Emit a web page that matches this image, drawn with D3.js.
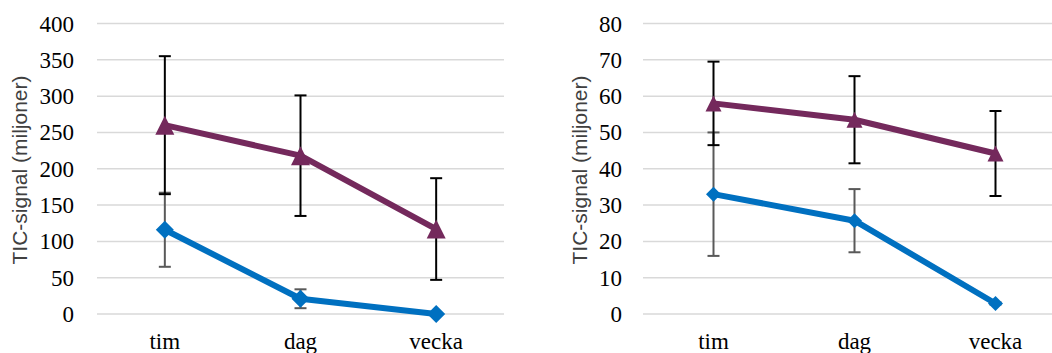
<!DOCTYPE html>
<html>
<head>
<meta charset="utf-8">
<script src="https://cdn.jsdelivr.net/npm/d3@7"></script>
<style>
  body { margin: 0; background: #fff; }
  svg { display: block; }
</style>
</head>
<body>
<script>
// chart.js
const width = 1052;
const height = 353;

const categories = ['tim', 'dag', 'vecka'];
const yTitle = 'TIC-signal (miljoner)';

// left panel
const leftTicks = [0, 50, 100, 150, 200, 250, 300, 350, 400];
const leftPurple = [260, 218, 117];
const leftPurpleErr = [95, 83, 70];
const leftBlue = [116, 21, 0];
const leftBlueErr = [51, 13, 0.4];

// right panel
const rightTicks = [0, 10, 20, 30, 40, 50, 60, 70, 80];
const rightPurple = [58, 53.5, 44.2];
const rightPurpleErr = [11.5, 12, 11.7];
const rightBlue = [33, 25.7, 2.9];
const rightBlueErr = [17, 8.7, 0.3];

const purple = '#74295c';
const blue = '#0070c0';

const svg = d3.select('body').append('svg')
  .attr('width', width)
  .attr('height', height);

svg.append('rect').attr('width', width).attr('height', height).attr('fill', '#fff');

const panels = [
  {x0: 97, x1: 504, labelX: 74, titleX: 27, ticks: leftTicks, purple: leftPurple, purpleErr: leftPurpleErr,
   blue: leftBlue, blueErr: leftBlueErr, tri: 19, dia: 9},
  {x0: 643, x1: 1066, labelX: 622, titleX: 587, ticks: rightTicks, purple: rightPurple, purpleErr: rightPurpleErr,
   blue: rightBlue, blueErr: rightBlueErr, tri: 16, dia: 7.5}
];

for (const p of panels) {
  const g = svg.append('g');

  const x = d3.scaleBand()
    .domain(categories)
    .range([p.x0, p.x1]);

  const y = d3.scaleLinear()
    .domain([0, d3.max(p.ticks)])
    .range([314, 23.5]);

  // gridlines
  g.append('g')
    .selectAll('line')
    .data(p.ticks)
    .join('line')
    .attr('x1', p.x0)
    .attr('x2', Math.min(p.x1, width))
    .attr('y1', d => y(d))
    .attr('y2', d => y(d))
    .attr('stroke', '#d9d9d9')
    .attr('stroke-width', 1.5);

  // y tick labels
  g.append('g')
    .selectAll('text')
    .data(p.ticks)
    .join('text')
    .attr('x', p.labelX)
    .attr('y', d => y(d))
    .attr('dy', '0.35em')
    .attr('text-anchor', 'end')
    .attr('font-family', '"Liberation Serif", "Times New Roman", serif')
    .attr('font-size', 23)
    .attr('fill', '#000')
    .text(d => d);

  // x labels
  g.append('g')
    .selectAll('text')
    .data(categories)
    .join('text')
    .attr('x', d => x(d) + x.bandwidth() / 2)
    .attr('y', 348.5)
    .attr('text-anchor', 'middle')
    .attr('font-family', '"Liberation Serif", "Times New Roman", serif')
    .attr('font-size', 23)
    .attr('fill', '#000')
    .text(d => d);

  // y title
  g.append('text')
    .attr('transform', `translate(${p.titleX},170) rotate(-90)`)
    .attr('text-anchor', 'middle')
    .attr('font-family', '"Liberation Sans", Arial, sans-serif')
    .attr('font-size', 21)
    .attr('fill', '#404040')
    .text(yTitle);

  const cx = i => x(categories[i]) + x.bandwidth() / 2;

  const series = [
    {vals: p.blue, err: p.blueErr, color: blue, errColor: '#595959', shape: 'diamond'},
    {vals: p.purple, err: p.purpleErr, color: purple, errColor: '#000', shape: 'triangle'}
  ];

  for (const s of series) {
    const line = d3.line()
      .x((d, i) => cx(i))
      .y(d => y(d));

    g.append('path')
      .datum(s.vals)
      .attr('fill', 'none')
      .attr('stroke', s.color)
      .attr('stroke-width', 6)
      .attr('stroke-linejoin', 'round')
      .attr('d', line);

    // error bars
    const eb = g.append('g')
      .attr('stroke', s.errColor)
      .attr('stroke-width', 2);
    s.vals.forEach((v, i) => {
      const top = y(v + s.err[i]);
      const bot = y(v - s.err[i]);
      eb.append('line').attr('x1', cx(i)).attr('x2', cx(i)).attr('y1', top).attr('y2', bot);
      eb.append('line').attr('x1', cx(i) - 6).attr('x2', cx(i) + 6).attr('y1', top).attr('y2', top);
      eb.append('line').attr('x1', cx(i) - 6).attr('x2', cx(i) + 6).attr('y1', bot).attr('y2', bot);
    });

    // markers
    const marker = s.shape === 'triangle'
      ? `M0,${-p.tri / 2}L${p.tri / 2},${p.tri / 2}L${-p.tri / 2},${p.tri / 2}Z`
      : `M0,${-p.dia}L${p.dia},0L0,${p.dia}L${-p.dia},0Z`;

    g.append('g')
      .selectAll('path')
      .data(s.vals)
      .join('path')
      .attr('transform', (d, i) => `translate(${cx(i)},${y(d)})`)
      .attr('d', marker)
      .attr('fill', s.color);
  }
}
</script>
</body>
</html>
